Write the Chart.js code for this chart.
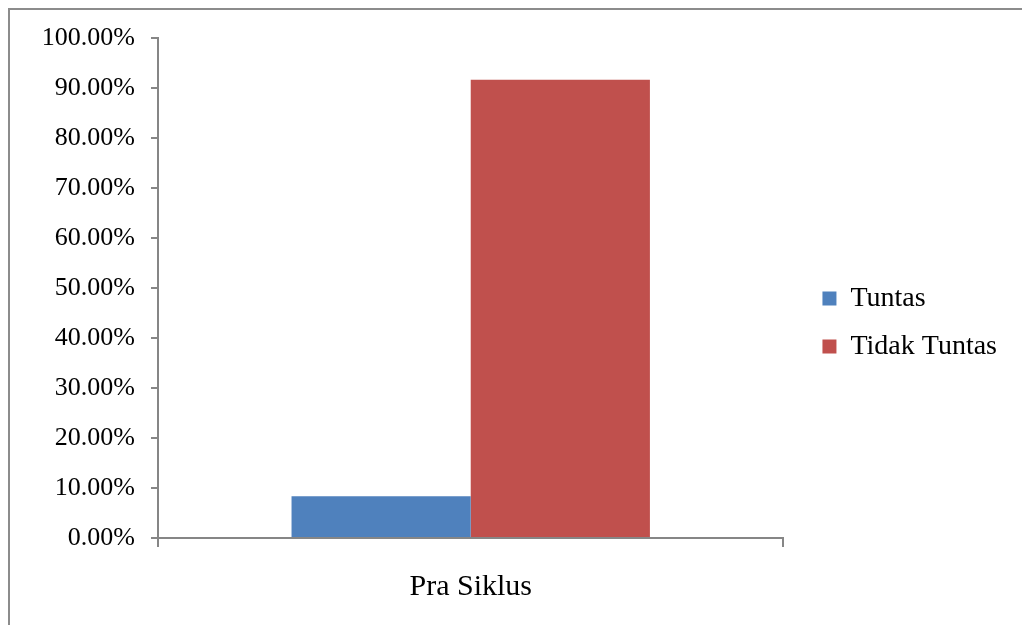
<!DOCTYPE html>
<html>
<head>
<meta charset="utf-8">
<script src="https://cdn.jsdelivr.net/npm/chart.js@4.4.1/dist/chart.umd.min.js"></script>
<style>
  html, body { margin: 0; padding: 0; background: #fff; }
  #wrap { position: relative; width: 1022px; height: 625px; overflow: hidden; }
  #frame { position: absolute; left: 8px; top: 8px; width: 1100px; height: 700px;
           border-left: 2px solid #8c8c8c; border-top: 2px solid #8c8c8c; }
  #chart { position: absolute; left: 0; top: 0; }
</style>
</head>
<body>
<div id="wrap">
  <div id="frame"></div>
  <canvas id="chart" width="1022" height="625"></canvas>
</div>
<script>
  const categories = ['Pra Siklus'];
  const seriesNames = ['Tuntas', 'Tidak Tuntas'];
  const tuntasValues = [8.33];
  const tidakTuntasValues = [91.67];
  const seriesColors = ['#4F81BD', '#C0504D'];

  const axisColor = '#868686';
  const fontFamily = '"Liberation Serif", "Times New Roman", serif';
  const legendGap = 19;

  // widen the legend box and push its items right, so there is room between plot and legend
  const legendGapPlugin = {
    id: 'legendGap',
    beforeLayout(chart) {
      const legend = chart.legend;
      if (legend && !legend._gapPatched) {
        const origFit = legend.fit;
        legend.fit = function () { origFit.call(this); this.width += legendGap; };
        legend._gapPatched = true;
      }
    },
    afterLayout(chart) {
      if (chart.legend) chart.legend.left += legendGap;
    }
  };

  const ctx = document.getElementById('chart').getContext('2d');
  new Chart(ctx, {
    type: 'bar',
    data: {
      labels: categories,
      datasets: [
        { label: seriesNames[0], data: tuntasValues, backgroundColor: seriesColors[0] },
        { label: seriesNames[1], data: tidakTuntasValues, backgroundColor: seriesColors[1] }
      ]
    },
    plugins: [legendGapPlugin],
    options: {
      responsive: false,
      animation: false,
      categoryPercentage: 0.573,
      barPercentage: 1,
      // bottom padding keeps the legend centred a bit lower than the plot
      layout: { padding: { top: 38, right: 15, bottom: 18, left: 0 } },
      plugins: {
        tooltip: { enabled: false },
        legend: {
          position: 'right',
          align: 'center',
          labels: {
            boxWidth: 14,
            boxHeight: 14,
            padding: 20,
            color: '#000',
            font: { family: fontFamily, size: 28 }
          }
        }
      },
      scales: {
        x: {
          grid: { drawOnChartArea: false, drawTicks: true, tickLength: 9, color: axisColor, lineWidth: 2 },
          border: { color: axisColor, width: 2 },
          ticks: { color: '#000', padding: 22, font: { family: fontFamily, size: 30 } },
          afterFit: (scale) => { scale.height = 69; }
        },
        y: {
          min: 0,
          max: 100,
          ticks: {
            stepSize: 10,
            color: '#000',
            padding: 16,
            font: { family: fontFamily, size: 26 },
            callback: (value) => value.toFixed(2) + '%'
          },
          grid: { drawOnChartArea: false, drawTicks: true, tickLength: 7, color: axisColor, lineWidth: 2 },
          border: { color: axisColor, width: 2 },
          afterFit: (scale) => { scale.width = 158; }
        }
      }
    }
  });
</script>
</body>
</html>
